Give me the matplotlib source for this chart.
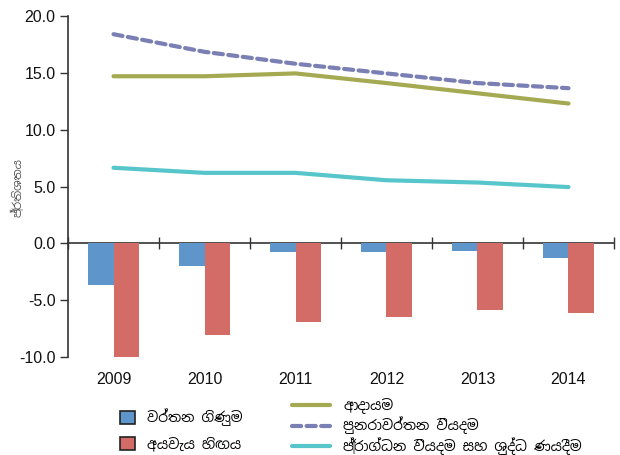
import matplotlib
matplotlib.use("Agg")
import matplotlib.pyplot as plt
from matplotlib import font_manager
from matplotlib.patches import Patch
from matplotlib.lines import Line2D
import numpy as np

years = ["2009", "2010", "2011", "2012", "2013", "2014"]
current_account = [-3.7, -2.0, -0.8, -0.8, -0.65, -1.25]
budget_deficit = [-10.0, -8.1, -6.9, -6.45, -5.85, -6.1]
revenue = [14.7, 14.7, 14.95, 14.1, 13.2, 12.3]
recurrent_exp = [18.4, 16.85, 15.8, 14.95, 14.1, 13.65]
capital_exp = [6.65, 6.2, 6.2, 5.55, 5.35, 4.95]

lbl_ca = "වර්තන ගිණුම"
lbl_bd = "අයවැය හිඟය"
lbl_rev = "ආදායම"
lbl_rec = "පුනරාවර්තන වියදම"
lbl_cap = "ප්‍රාග්ධන වියදම සහ ශුද්ධ ණයදීම"
ylabel = "ප්‍රතිශතය"
yticks = [20, 15, 10, 5, 0, -5, -10]

# find a font with Sinhala coverage
sinhala = []
for f in font_manager.fontManager.ttflist:
    if "sinhala" in f.name.lower() or "iskoola" in f.name.lower():
        sinhala.append(f.name)
families = (sorted(set(sinhala))[:1]) + ["DejaVu Sans"]
plt.rcParams["font.family"] = ["Liberation Sans", "DejaVu Sans"]

c_blue = "#5e96cb"
c_red = "#d36b66"
c_olive = "#a5aa52"
c_dash = "#7a7fb4"
c_cyan = "#57c6cb"
axis_col = "#333333"

fig = plt.figure(figsize=(6.2, 4.55), dpi=100)
ax = fig.add_axes([0.1097, 0.2154, 0.8806, 0.7494])

x = np.arange(len(years))
w = 0.28
ax.bar(x - w / 2, current_account, w, color=c_blue, zorder=2)
ax.bar(x + w / 2, budget_deficit, w, color=c_red, zorder=2)
ax.plot(x, revenue, color=c_olive, lw=3, solid_capstyle="round", zorder=3)
ax.plot(x, recurrent_exp, color=c_dash, lw=3, ls=(0, (2.2, 1.3)), dash_capstyle="round", zorder=3)
ax.plot(x, capital_exp, color=c_cyan, lw=3, solid_capstyle="round", zorder=3)

ax.set_xlim(-0.5, len(years) - 0.5)
ax.set_ylim(-10, 20)
ax.set_yticks(yticks, labels=[f"{v:.1f}" for v in yticks])
ax.tick_params(axis="y", direction="out", length=6, width=1, color=axis_col,
               labelsize=11.5, pad=3, labelcolor="#111111")
ax.set_xticks(x, labels=years)
ax.tick_params(axis="x", length=0, pad=10.5, labelsize=11.5, labelcolor="#111111")

for s in ["top", "right", "bottom"]:
    ax.spines[s].set_visible(False)
ax.spines["left"].set_color(axis_col)
ax.spines["left"].set_linewidth(1.2)

sec = ax.secondary_xaxis(0, transform=ax.transData)
sec.set_xticks(np.arange(len(years) + 1) - 0.5, labels=[])
sec.tick_params(axis="x", direction="inout", length=9, width=1, color=axis_col)
sec.spines["bottom"].set_color(axis_col)
sec.spines["bottom"].set_linewidth(1.2)

ax.set_ylabel(ylabel, family=families, fontsize=8.3, color="#555555")
ax.yaxis.set_label_coords(-0.08, 0.496)

h1 = [Patch(facecolor=c_blue, edgecolor="#222222", lw=1.2),
      Patch(facecolor=c_red, edgecolor="#222222", lw=1.2)]
fig.legend(h1, [lbl_ca, lbl_bd], loc="upper left", bbox_to_anchor=(0.193, 0.102),
           frameon=False, prop={"family": families, "size": 10},
           handlelength=1.1, handleheight=1.1, labelspacing=0.75, handletextpad=0.9,
           borderaxespad=0, borderpad=0)
h2 = [Line2D([], [], color=c_olive, lw=3, solid_capstyle="round"),
      Line2D([], [], color=c_dash, lw=3, ls=(0, (2.2, 1.3)), dash_capstyle="round"),
      Line2D([], [], color=c_cyan, lw=3, solid_capstyle="round")]
fig.legend(h2, [lbl_rev, lbl_rec, lbl_cap], loc="upper left", bbox_to_anchor=(0.471, 0.125),
           frameon=False, prop={"family": families, "size": 10},
           handlelength=2.7, labelspacing=0.2, handletextpad=1.0,
           borderaxespad=0, borderpad=0)

fig.savefig("out.png", dpi=100)
